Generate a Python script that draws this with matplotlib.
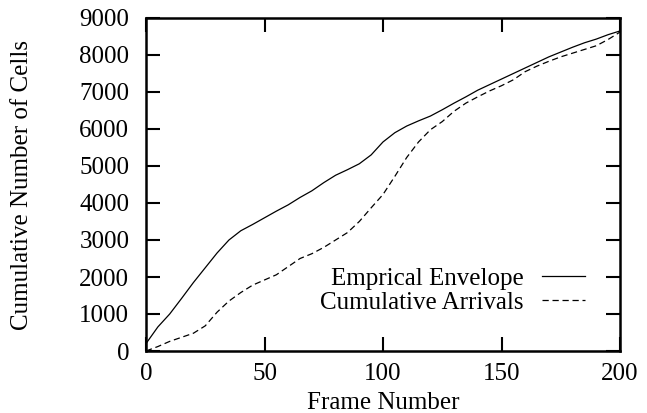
import matplotlib
matplotlib.use("Agg")
import matplotlib.pyplot as plt

plt.rcParams['font.family'] = ['Liberation Serif', 'DejaVu Serif']

# frame numbers
frames = [0, 5, 10, 15, 20, 25, 30, 35, 40, 45, 50, 55, 60, 65, 70, 75, 80, 85, 90, 95,
          100, 105, 110, 115, 120, 125, 130, 135, 140, 145, 150, 155, 160, 165, 170,
          175, 180, 185, 190, 195, 200]
# empirical envelope
envelope = [200, 650, 1000, 1420, 1850, 2250, 2650, 3000, 3250, 3420, 3600, 3780, 3950,
            4150, 4330, 4550, 4750, 4900, 5060, 5300, 5650, 5900, 6080, 6220, 6350, 6520,
            6700, 6870, 7050, 7200, 7350, 7500, 7650, 7800, 7950, 8080, 8210, 8330, 8430,
            8550, 8650]
# cumulative arrivals
arrivals = [0, 120, 260, 370, 480, 680, 1050, 1350, 1580, 1780, 1920, 2060, 2280, 2500,
            2630, 2800, 3000, 3200, 3500, 3870, 4230, 4720, 5230, 5650, 5980, 6200, 6480,
            6700, 6870, 7030, 7170, 7330, 7550, 7700, 7830, 7950, 8050, 8150, 8250, 8420,
            8620]

xticks = [0, 50, 100, 150, 200]
yticks = [0, 1000, 2000, 3000, 4000, 5000, 6000, 7000, 8000, 9000]

fig = plt.figure(figsize=(6.47, 4.13), dpi=100)
ax = fig.add_axes([146/647, 1-351/413, (620-146)/647, (351-18)/413])

ax.plot(frames, envelope, color='black', lw=0.9, label='Emprical Envelope')
ax.plot(frames, arrivals, color='black', lw=0.9, dashes=(5, 3), label='Cumulative Arrivals')

ax.set_xlim(0, 200)
ax.set_ylim(0, 9000)
ax.set_xticks(xticks)
ax.set_yticks(yticks)
ax.tick_params(direction='in', length=10, width=1.5, top=True, right=True, labelsize=18)
ax.tick_params(axis='x', pad=9)
ax.tick_params(axis='y', pad=12)
for s in ax.spines.values():
    s.set_linewidth(1.8)

ax.set_xlabel('Frame Number', fontsize=18)
ax.xaxis.set_label_coords(0.5, -0.122)
ax.set_ylabel('Cumulative Number of Cells', fontsize=18)
ax.yaxis.set_label_coords(-0.238, 0.5)

leg = ax.legend(loc='lower right', bbox_to_anchor=(0.926, 0.112), frameon=False,
                markerfirst=False, fontsize=18, handlelength=1.7, labelspacing=0.06,
                handletextpad=0.75, borderpad=0, borderaxespad=0)
for t in leg.get_texts():
    t.set_ha('right')

fig.savefig('out.png', dpi=100)
